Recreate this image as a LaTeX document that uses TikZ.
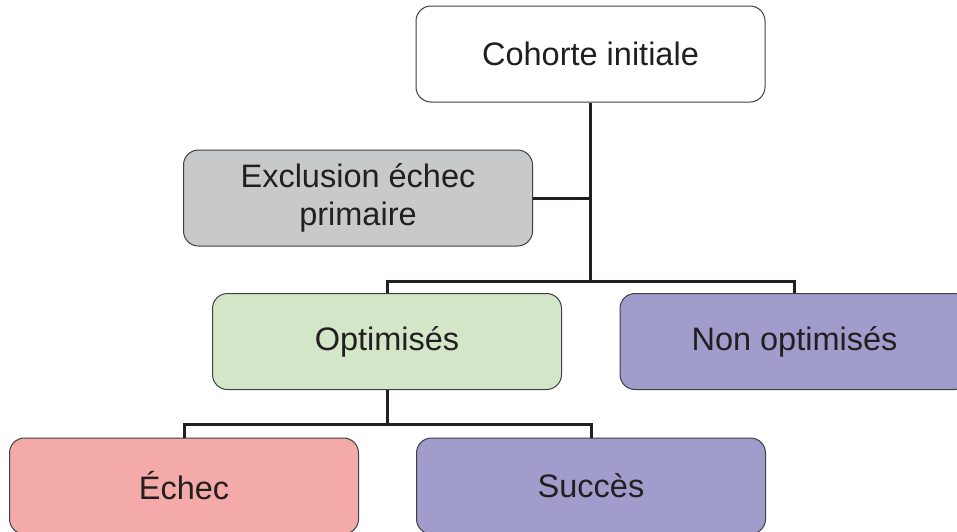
\documentclass[tikz,border=0pt]{standalone}
\usepackage{fontspec}
\setmainfont{Liberation Sans}
\usetikzlibrary{positioning}
\definecolor{boxline}{HTML}{404040}
\definecolor{linecol}{HTML}{231F20}
\definecolor{textcol}{HTML}{231F20}
\definecolor{exclcol}{HTML}{C8C9CB}
\definecolor{optcol}{HTML}{D3E6C8}
\definecolor{purplecol}{HTML}{A09DCD}
\definecolor{echeccol}{HTML}{F5AAAA}
\begin{document}
\begin{tikzpicture}[x=1pt, y=-1pt,
  box/.style={draw=boxline, line width=1pt, rounded corners=15pt, minimum width=349pt, minimum height=96pt, align=center, text=textcol, font=\fontsize{32.5}{38}\selectfont},
  link/.style={draw=linecol, line width=3pt}]
\useasboundingbox (0,0) rectangle (957,531);
% boxes
\node[box, fill=white] (cohorte) at (590.5,54) {Cohorte initiale};
\node[box, fill=exclcol] (excl) at (358,198) {Exclusion échec\\primaire};
\node[box, fill=optcol] (optim) at (387,341.5) {Optimisés};
\node[box, fill=purplecol] (nonopt) at (794.5,341.5) {Non optimisés};
\node[box, fill=echeccol] (echec) at (184,486) {Échec};
\node[box, fill=purplecol] (succes) at (591,486) {Succès};
% connectors
\coordinate (split) at (590.5,281);
\coordinate (split2) at (387,424);
\draw[link] (cohorte.south) -- (split);
\draw[link] (excl.east) -- (excl.east -| cohorte.south);
\draw[link] (optim.north) |- (split) -| (nonopt.north);
\draw[link] (optim.south) -- (split2);
\draw[link] (echec.north) |- (split2) -| (succes.north);
\end{tikzpicture}
\end{document}
